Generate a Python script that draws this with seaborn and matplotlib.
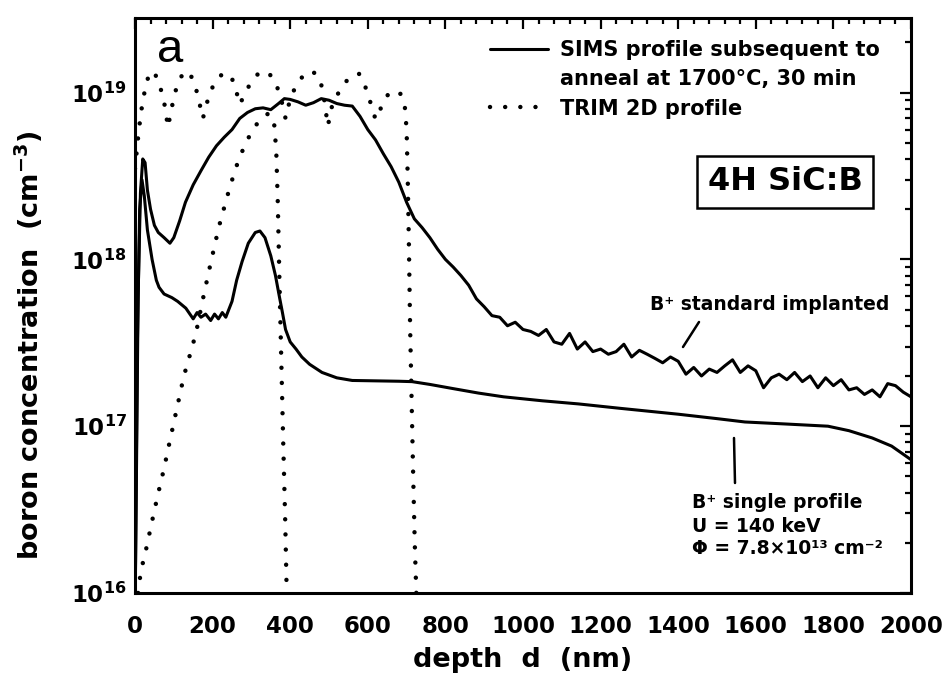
import matplotlib
matplotlib.use("Agg")
import matplotlib.pyplot as plt
import seaborn as sns
import numpy as np
from matplotlib.lines import Line2D
from matplotlib.ticker import MultipleLocator, LogLocator, FuncFormatter, NullFormatter

# SIMS, B+ standard implanted (conc. in 1e17 cm^-3)
depth_std = [1, 4, 8, 14, 20, 26, 32, 40, 50, 60, 75, 90, 100, 115, 130, 150, 170, 190,
             210, 230, 250, 270, 290, 310, 330, 350, 370, 385, 400, 420, 440, 460, 480,
             500, 520, 540, 560, 580, 600, 620, 640, 660, 680, 700, 720, 740, 760, 780,
             800, 820, 840, 860, 880, 900, 920, 940, 960, 980, 1000, 1020, 1040, 1060,
             1080, 1100, 1120, 1140, 1160, 1180, 1200, 1220, 1240, 1260, 1280, 1300,
             1320, 1340, 1360, 1380, 1400, 1420, 1440, 1460, 1480, 1500, 1520, 1540,
             1560, 1580, 1600, 1620, 1640, 1660, 1680, 1700, 1720, 1740, 1760, 1780,
             1800, 1820, 1840, 1860, 1880, 1900, 1920, 1940, 1960, 1980, 2000]
conc_std = [0.12, 0.6, 6, 25, 40, 38, 26, 20, 16, 14.5, 13.5, 12.5, 13.5, 17, 22, 28, 34, 41,
            48, 54, 60, 70, 76, 80, 81, 79, 86, 92, 91, 88, 84, 87, 92,
            90, 86, 84, 83, 72, 60, 52, 43, 36, 29, 22, 17.5, 15.5, 13.5, 11.5,
            10.0, 9.0, 8.0, 7.0, 5.8, 5.2, 4.6, 4.5, 4.0, 4.2, 3.8, 3.7, 3.5, 3.8,
            3.2, 3.1, 3.6, 2.9, 3.2, 2.8, 2.9, 2.7, 2.8, 3.1, 2.6, 2.85,
            2.7, 2.55, 2.4, 2.6, 2.45, 2.05, 2.25, 2.0, 2.2, 2.1, 2.3, 2.5,
            2.1, 2.3, 2.15, 1.7, 1.95, 2.05, 1.9, 2.1, 1.85, 2.0, 1.7, 1.95,
            1.75, 1.9, 1.65, 1.7, 1.55, 1.65, 1.5, 1.8, 1.75, 1.6, 1.5]

# SIMS, B+ single profile
depth_single = [1, 6, 12, 18, 24, 32, 44, 55, 62, 75, 95, 110, 131, 150, 160, 170, 182,
                195, 205, 215, 225, 234, 250, 262, 276, 292, 310, 322, 335, 350, 362,
                372, 380, 388, 400, 415, 430, 450, 482, 520, 560, 620, 680, 714, 760,
                820, 885, 950, 1050, 1143, 1250, 1400, 1500, 1572, 1680, 1786, 1840,
                1900, 1950, 2000]
conc_single = [0.12, 3, 20, 30, 24, 15, 10, 7.5, 6.8, 6.2, 5.9, 5.6, 5.1, 4.4, 4.8, 4.5, 4.7,
               4.3, 4.7, 4.4, 4.8, 4.5, 5.6, 7.5, 9.7, 12.5, 14.5, 14.8, 13.5, 10.5, 8,
               6, 4.8, 3.8, 3.2, 2.9, 2.6, 2.35, 2.1, 1.95, 1.88, 1.87, 1.86, 1.85, 1.78,
               1.68, 1.58, 1.5, 1.42, 1.36, 1.28, 1.18, 1.11, 1.06, 1.03, 1.0, 0.94,
               0.85, 0.76, 0.63]

# TRIM 2D, multiple implantation (box)
depth_trim_box = [0, 10, 20, 32, 44, 55, 65, 75, 85, 95, 105, 118, 134, 148, 160, 175, 190,
                  205, 222, 242, 255, 270, 285, 300, 315, 332, 348, 362, 375, 388, 400,
                  415, 432, 453, 470, 484, 497, 510, 525, 546, 562, 577, 590, 605, 620,
                  635, 650, 667, 685, 695, 700, 703, 706, 709, 713, 717, 721, 725]
conc_trim_box = [35, 60, 90, 120, 135, 125, 108, 88, 62, 82, 103, 124, 135, 122, 100, 70, 95,
                 115, 127, 130, 115, 85, 100, 117, 128, 135, 128, 115, 95, 70, 92,
                 110, 125, 135, 128, 105, 63, 88, 100, 118, 127, 130, 115, 90, 69,
                 82, 96, 103, 98, 85, 60, 30, 12, 4, 1.4, 0.5, 0.2, 0.1]

# TRIM 2D, single implantation
depth_trim_single = [8, 15, 28, 41, 58, 75, 88, 100, 113, 126, 142, 157, 173, 195, 216, 238,
                     259, 285, 310, 330, 345, 358, 364, 368, 372, 377, 382, 387, 391]
conc_trim_single = [0.1, 0.135, 0.18, 0.25, 0.38, 0.56, 0.78, 1.05, 1.45, 2.0, 2.7, 3.6, 5.5,
                    9.5, 15.6, 24, 35, 50, 63, 72, 75, 68, 45, 22, 8, 2.5, 0.8, 0.28, 0.1]

x_ticks = [0, 200, 400, 600, 800, 1000, 1200, 1400, 1600, 1800, 2000]

SCALE = 1e17
H = 681


def plot_boron_profiles():
    sns.set_theme(style="white")
    plt.rcParams['font.family'] = ['DejaVu Sans']
    plt.rcParams['font.weight'] = 'bold'
    plt.rcParams['text.color'] = 'black'
    plt.rcParams['axes.labelcolor'] = 'black'
    plt.rcParams['xtick.color'] = 'black'
    plt.rcParams['ytick.color'] = 'black'
    plt.rcParams['mathtext.fontset'] = 'custom'
    plt.rcParams['mathtext.rm'] = 'DejaVu Sans:bold'
    plt.rcParams['mathtext.bf'] = 'DejaVu Sans:bold'
    plt.rcParams['mathtext.it'] = 'DejaVu Sans:bold'
    plt.rcParams['mathtext.default'] = 'rm'

    fig = plt.figure(figsize=(9.46, 6.81), dpi=100)
    ax = fig.add_axes([135 / 946, 1 - 593 / H, (911 - 135) / 946, (593 - 18) / H])

    dots = (0, (0.01, 3.4))
    sns.lineplot(x=depth_std, y=np.array(conc_std) * SCALE, ax=ax, color='black',
                 linewidth=2.2, estimator=None, sort=False)
    sns.lineplot(x=depth_single, y=np.array(conc_single) * SCALE, ax=ax, color='black',
                 linewidth=2.2, estimator=None, sort=False)
    sns.lineplot(x=depth_trim_box, y=np.array(conc_trim_box) * SCALE, ax=ax, color='black',
                 linewidth=3.2, linestyle=dots, dash_capstyle='round',
                 estimator=None, sort=False)
    sns.lineplot(x=depth_trim_single, y=np.array(conc_trim_single) * SCALE, ax=ax,
                 color='black', linewidth=3.2, linestyle=dots, dash_capstyle='round',
                 estimator=None, sort=False)

    ax.set_yscale('log')
    ax.set_xlim(0, 2000)
    ax.set_ylim(1e16, 2.8e19)

    ax.set_xticks(x_ticks)
    ax.xaxis.set_minor_locator(MultipleLocator(40))
    ax.yaxis.set_major_locator(LogLocator(base=10, numticks=10))
    ax.yaxis.set_minor_locator(LogLocator(base=10, subs=np.arange(2, 10), numticks=20))
    ax.yaxis.set_minor_formatter(NullFormatter())
    ax.yaxis.set_major_formatter(FuncFormatter(lambda v, p: r'$10^{%d}$' % round(np.log10(v))))

    ax.tick_params(which='both', direction='in', top=True, right=True,
                   width=1.6, color='black')
    ax.tick_params(which='major', length=8, labelsize=16.5, labelcolor='black')
    ax.tick_params(axis='x', which='major', pad=16)
    ax.tick_params(axis='y', which='major', pad=6)
    ax.tick_params(which='minor', length=4)
    for s in ax.spines.values():
        s.set_linewidth(2.2)
        s.set_color('black')

    ax.set_xlabel('depth  d  (nm)', fontsize=19.5, fontweight='bold', labelpad=6)
    ax.set_ylabel(r'boron concentration  (cm$^{-3}$)', fontsize=19.5, fontweight='bold')
    ax.yaxis.set_label_coords(-0.116, 0.43)

    # legend
    handles = [Line2D([], [], color='black', linewidth=2.2),
               Line2D([], [], color='none'),
               Line2D([], [], color='black', linewidth=3.2, linestyle=dots,
                      dash_capstyle='round')]
    labels = ['SIMS profile subsequent to', 'anneal at 1700°C, 30 min', 'TRIM 2D profile']
    ax.legend(handles, labels, loc='upper left', bbox_to_anchor=(0.4575, 0.962),
              frameon=False, borderpad=0, borderaxespad=0, handlelength=2.8,
              handletextpad=0.55, labelspacing=0.45,
              prop={'size': 15, 'weight': 'bold'})

    def fp(x, y):
        return (x, H - y)

    ax.annotate('a', xy=fp(170, 50), xycoords='figure pixels', fontsize=34,
                fontweight='normal', family='Liberation Sans', ha='center', va='center')
    ax.annotate('4H SiC:B', xy=fp(785, 182), xycoords='figure pixels', fontsize=23,
                fontweight='bold', ha='center', va='center',
                bbox=dict(boxstyle='square,pad=0.33', fc='white', ec='black', lw=1.8))

    ax.annotate('B⁺ standard implanted', xy=fp(650, 305), xycoords='figure pixels',
                fontsize=13.5, ha='left', va='center')
    ax.annotate('', xy=fp(683, 347), xycoords='figure pixels', xytext=fp(699, 322),
                textcoords='figure pixels',
                arrowprops=dict(arrowstyle='-', lw=1.8, color='black', shrinkA=0, shrinkB=0))

    ax.annotate('B⁺ single profile', xy=fp(692, 502), xycoords='figure pixels',
                fontsize=13.5, ha='left', va='center')
    ax.annotate('U = 140 keV', xy=fp(692, 526), xycoords='figure pixels',
                fontsize=13.5, ha='left', va='center')
    ax.annotate('Φ = 7.8×10¹³ cm⁻²', xy=fp(692, 549), xycoords='figure pixels',
                fontsize=13.5, ha='left', va='center')
    ax.annotate('', xy=fp(734, 438), xycoords='figure pixels', xytext=fp(735, 483),
                textcoords='figure pixels',
                arrowprops=dict(arrowstyle='-', lw=1.8, color='black', shrinkA=0, shrinkB=0))

    fig.savefig('out.png', dpi=100)
    plt.close(fig)


if __name__ == "__main__":
    plot_boron_profiles()
